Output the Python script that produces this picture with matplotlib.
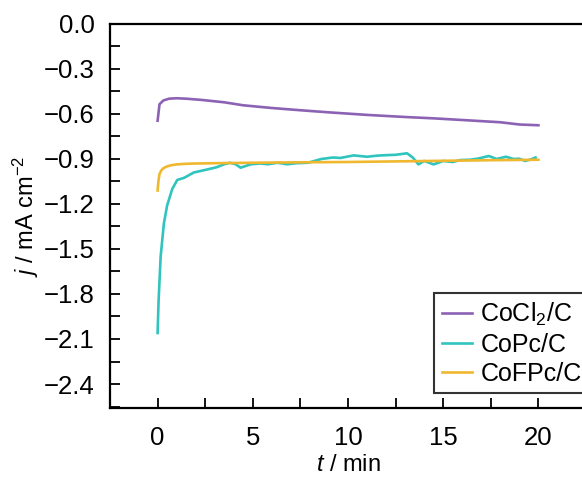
import matplotlib
matplotlib.use("Agg")
import matplotlib.pyplot as plt
from matplotlib.ticker import MultipleLocator

plt.rcParams['font.family'] = ['Liberation Sans', 'DejaVu Sans']
plt.rcParams['mathtext.fontset'] = 'custom'
plt.rcParams['mathtext.rm'] = 'Liberation Sans'
plt.rcParams['mathtext.it'] = 'Liberation Sans:italic'

# CoCl2/C
t_cocl = [0.0, 0.05, 0.1, 0.3, 0.6, 1.0, 1.5, 2.3, 3.5, 4.5, 6.0, 7.5, 9.0, 11.0, 13.0, 14.5, 16.0, 18.0, 19.0, 20.0]
j_cocl = [-0.645, -0.59, -0.535, -0.51, -0.498, -0.495, -0.498, -0.506, -0.522, -0.542, -0.56, -0.575, -0.589, -0.606, -0.62, -0.629, -0.64, -0.655, -0.67, -0.675]

# CoPc/C
t_copc = [0.0, 0.05, 0.16, 0.33, 0.5, 0.77, 1.03, 1.4, 1.9, 2.6, 3.1, 3.5, 3.8, 4.1, 4.36, 4.9, 5.4, 5.8, 6.3, 6.8, 7.3, 7.9,
          8.6, 9.2, 9.6, 10.3, 11.0, 11.5, 11.9, 12.5, 13.1, 13.4, 13.7, 14.0, 14.5, 15.0, 15.5, 15.9, 16.4, 16.8, 17.4,
          17.8, 18.3, 18.7, 19.0, 19.3, 19.6, 19.85]
j_copc = [-2.06, -1.85, -1.55, -1.33, -1.21, -1.10, -1.04, -1.025, -0.99, -0.97, -0.955, -0.935, -0.925, -0.935, -0.958,
          -0.935, -0.93, -0.935, -0.925, -0.935, -0.928, -0.925, -0.90, -0.89, -0.893, -0.876, -0.885, -0.878, -0.875,
          -0.872, -0.862, -0.89, -0.936, -0.913, -0.936, -0.913, -0.92, -0.907, -0.905, -0.898, -0.88, -0.90, -0.885,
          -0.90, -0.898, -0.913, -0.903, -0.89]

# CoFPc/C
t_cofpc = [0.0, 0.05, 0.1, 0.2, 0.3, 0.45, 0.6, 0.8, 1.0, 1.5, 2.0, 3.0, 5.0, 7.5, 10.0, 12.5, 15.0, 17.5, 20.0]
j_cofpc = [-1.11, -1.04, -1.0, -0.975, -0.962, -0.952, -0.945, -0.94, -0.936, -0.932, -0.93, -0.928, -0.925, -0.922, -0.92, -0.916, -0.912, -0.908, -0.905]

labels = ['CoCl$_2$/C', 'CoPc/C', 'CoFPc/C']
colors = ['#8c62b4', '#2fc4bd', '#efb82f']

fig = plt.figure(figsize=(5.82, 4.8), dpi=100)
ax = fig.add_axes([110/582, 72/480, 476/582, 384/480])

ax.plot(t_cocl, j_cocl, color=colors[0], lw=1.9, label=labels[0])
ax.plot(t_copc, j_copc, color=colors[1], lw=1.9, label=labels[1])
ax.plot(t_cofpc, j_cofpc, color=colors[2], lw=1.9, label=labels[2])

ax.set_xlim(-2.5, 22.5)
ax.set_ylim(-2.56, 0.0)
ax.xaxis.set_major_locator(MultipleLocator(5))
ax.xaxis.set_minor_locator(MultipleLocator(2.5))
ax.yaxis.set_major_locator(MultipleLocator(0.3))
ax.yaxis.set_minor_locator(MultipleLocator(0.15))
ax.yaxis.set_major_formatter(plt.FuncFormatter(
    lambda v, p: ('%.1f' % v).replace('-', '\u2212') if abs(v) > 1e-9 else '0.0'))
ax.tick_params(which='both', direction='in', length=7, width=1.3, labelsize=18.5)
ax.tick_params(axis='x', pad=13)
ax.tick_params(axis='y', pad=11)
ax.tick_params(which='both', top=False, right=False)
for s in ax.spines.values():
    s.set_linewidth(1.6)

ax.set_xlabel('$t$ / min', fontsize=17, labelpad=3)
ax.set_ylabel('$j$ / mA cm$^{-2}$', fontsize=17, labelpad=2)

leg = ax.legend(loc='upper left', bbox_to_anchor=(0.681, 0.299), borderaxespad=0,
                fontsize=18, frameon=True, fancybox=False, handlelength=1.2,
                handletextpad=0.35, labelspacing=0.2, borderpad=0.3)
leg.get_frame().set_edgecolor('black')
leg.get_frame().set_linewidth(1.5)

plt.savefig('out.png', dpi=100)
